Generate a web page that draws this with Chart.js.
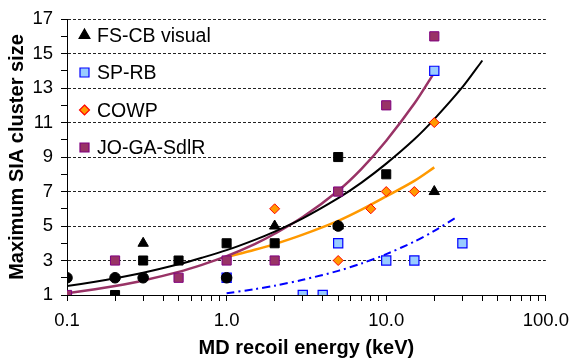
<!DOCTYPE html>
<html><head><meta charset="utf-8">
<script src="https://cdn.jsdelivr.net/npm/chart.js@4/dist/chart.umd.min.js"></script>
<style>html,body{margin:0;padding:0;background:#fff;}#wrap{width:578px;height:360px;}</style>
</head><body><div id="wrap"><canvas id="c" width="578" height="360"></canvas></div>
<script>
// ---- data ----
const legendNames = ['FS-CB visual', 'SP-RB', 'COWP', 'JO-GA-SdlR'];

const fsVisualX = [0.3, 2, 5, 20];
const fsVisualY = [4, 5, 5, 7];
const fsSquareX = [0.2, 0.3, 0.5, 1, 2, 5, 10];
const fsSquareY = [1, 3, 3, 4, 4, 9, 8];
const fsCircleX = [0.1, 0.2, 0.3, 1, 5];
const fsCircleY = [2, 2, 2, 2, 5];
const spX = [1, 3, 4, 5, 10, 15, 20, 30];
const spY = [2, 1, 1, 4, 3, 3, 14, 4];
const cowpX = [2, 5, 8, 10, 15, 20];
const cowpY = [6, 3, 6, 7, 7, 11];
const joX = [0.1, 0.2, 0.5, 1, 2, 5, 10, 20];
const joY = [1, 3, 2, 3, 3, 7, 12, 16];

// trend curves, points
const fitBlackX = [0.1, 0.15, 0.2, 0.3, 0.5, 0.7, 1, 1.5, 2, 3, 5, 7, 10, 15, 20, 30, 40];
const fitBlackY = [1.52, 1.77, 1.97, 2.29, 2.78, 3.16, 3.6, 4.2, 4.68, 5.45, 6.62, 7.52, 8.62, 10.03, 11.2, 13.05, 14.6];
const fitJoX = [0.1, 0.15, 0.2, 0.3, 0.5, 0.7, 1, 1.5, 2, 3, 5, 7, 10, 15, 20];
const fitJoY = [1.1, 1.33, 1.52, 1.84, 2.34, 2.75, 3.25, 3.95, 4.55, 5.52, 7.05, 8.32, 9.95, 12.1, 13.9];
const fitCowpX = [1, 1.5, 2, 3, 5, 7, 10, 15, 20];
const fitCowpY = [3.2, 3.62, 3.95, 4.5, 5.3, 5.95, 6.72, 7.62, 8.4];
const fitSpX = [1, 1.5, 2, 3, 5, 7, 10, 15, 20, 27.4];
const fitSpY = [1.1, 1.34, 1.54, 1.88, 2.4, 2.83, 3.37, 4.1, 4.72, 5.5];

const xTickValues = [0.1,0.2,0.3,0.4,0.5,0.6,0.7,0.8,0.9,1,2,3,4,5,6,7,8,9,10,20,30,40,50,60,70,80,90,100];
const xLabelValues = [0.1, 1, 10, 100];
const xLabelTexts = ['0.1', '1.0', '10.0', '100.0'];
const yLabelValues = [1, 3, 5, 7, 9, 11, 13, 15, 17];

const xTitle = 'MD recoil energy (keV)';
const yTitle = 'Maximum SIA cluster size';

// ---- build ----
const pts = (xs, ys) => xs.map((x, i) => ({x: x, y: ys[i]}));
const FONT = "'Liberation Sans', Arial, Helvetica, sans-serif";

function markers(label, xs, ys, style, r, fill, stroke, bw) {
  return {label, data: pts(xs, ys), showLine: false, pointStyle: style, pointRadius: r,
    pointHoverRadius: r, backgroundColor: fill, borderColor: stroke, pointBorderWidth: bw,
    borderWidth: bw, order: 1};
}
function curve(label, xs, ys, color, w, dash) {
  return {label, data: pts(xs, ys), showLine: true, pointRadius: 0, borderColor: color,
    backgroundColor: color, borderWidth: w, borderDash: dash || [], tension: 0.3,
    fill: false, order: 2};
}

const datasets = [
  curve('fitBlack', fitBlackX, fitBlackY, '#000000', 2),
  curve('fitJo', fitJoX, fitJoY, '#993366', 2.5),
  curve('fitCowp', fitCowpX, fitCowpY, '#ff9900', 2.5),
  curve('fitSp', fitSpX, fitSpY, '#0000ff', 2, [8, 4, 2, 4]),
  markers('FS-CB squares', fsSquareX, fsSquareY, 'rect', 6.4, '#000000', '#000000', 1),
  markers(legendNames[0], fsVisualX, fsVisualY, 'triangle', 6, '#000000', '#000000', 1),
  markers('FS-CB circles', fsCircleX, fsCircleY, 'circle', 5.3, '#000000', '#000000', 1),
  markers(legendNames[1], spX, spY, 'rect', 6.5, '#99ccff', '#0000ff', 1.2),
  markers(legendNames[2], cowpX, cowpY, 'rectRot', 5, '#ff9900', '#ff0000', 1),
  markers(legendNames[3], joX, joY, 'rect', 6.5, '#993366', '#800080', 1),
];
datasets[6].order = 0;

const legendPlugin = {
  id: 'insideLegend',
  afterDraw(chart) {
    const ctx = chart.ctx;
    const items = [
      {name: legendNames[0], style: 'triangle', fill: '#000000', stroke: '#000000', y: 35},
      {name: legendNames[1], style: 'rect', fill: '#99ccff', stroke: '#0000ff', y: 72.5},
      {name: legendNames[2], style: 'diamond', fill: '#ff9900', stroke: '#ff0000', y: 110},
      {name: legendNames[3], style: 'rect', fill: '#993366', stroke: '#800080', y: 147.5},
    ];
    const mx = 84.5;
    ctx.save();
    items.forEach(it => {
      ctx.beginPath();
      const y = it.y;
      if (it.style === 'triangle') {
        ctx.moveTo(mx, y - 6); ctx.lineTo(mx + 5.4, y + 3.4); ctx.lineTo(mx - 5.4, y + 3.4); ctx.closePath();
      } else if (it.style === 'rect') {
        ctx.rect(mx - 4.5, y - 4.5, 9, 9);
      } else {
        ctx.moveTo(mx, y - 5); ctx.lineTo(mx + 5, y); ctx.lineTo(mx, y + 5); ctx.lineTo(mx - 5, y); ctx.closePath();
      }
      ctx.fillStyle = it.fill; ctx.fill();
      ctx.lineWidth = 1.2; ctx.strokeStyle = it.stroke; ctx.stroke();
      ctx.fillStyle = '#000';
      ctx.font = "19.5px " + FONT;
      ctx.textBaseline = 'middle';
      ctx.textAlign = 'left';
      ctx.fillText(it.name, 97, it.y + 1.5);
    });
    ctx.restore();
  }
};

new Chart(document.getElementById('c'), {
  type: 'scatter',
  data: {datasets},
  plugins: [legendPlugin],
  options: {
    responsive: false,
    animation: false,
    devicePixelRatio: 1,
    layout: {padding: {top: 19, right: 27, left: 0, bottom: 0}},
    plugins: {legend: {display: false}, tooltip: {enabled: false}},
    scales: {
      x: {
        type: 'logarithmic', min: 0.1, max: 100,
        afterBuildTicks: s => { s.ticks = xTickValues.map(v => ({value: v})); },
        afterFit: s => { s.height = 65; },
        ticks: {
          autoSkip: false, maxRotation: 0, minRotation: 0, padding: 9,
          color: '#000', font: {family: FONT, size: 18.5},
          callback: (v) => { const i = xLabelValues.indexOf(v); return i >= 0 ? xLabelTexts[i] : ''; }
        },
        grid: {drawOnChartArea: false, drawTicks: true, tickLength: 6, tickColor: '#000', color: '#000'},
        border: {display: true, color: '#000', width: 1},
        title: {display: true, text: xTitle, color: '#000', font: {family: FONT, size: 20, weight: 'bold'}, padding: {top: 0, bottom: 0}}
      },
      y: {
        type: 'linear', min: 1, max: 17,
        afterFit: s => { s.width = 67; },
        ticks: {
          stepSize: 1, autoSkip: false, padding: 8, color: '#000', font: {family: FONT, size: 18.5},
          callback: (v) => yLabelValues.includes(v) ? String(v) : ''
        },
        grid: {
          drawOnChartArea: true, drawTicks: true, tickLength: 6, tickColor: '#000', lineWidth: 1,
          color: (c) => (c.tick && yLabelValues.includes(c.tick.value) && c.tick.value > 1) ? '#222' : 'rgba(0,0,0,0)'
        },
        border: {display: true, color: '#000', width: 1, dash: [3, 2]},
        title: {display: true, text: yTitle, color: '#000', font: {family: FONT, size: 20, weight: 'bold'}, padding: {top: 5, bottom: 0}}
      }
    }
  }
});
</script>
</body></html>
